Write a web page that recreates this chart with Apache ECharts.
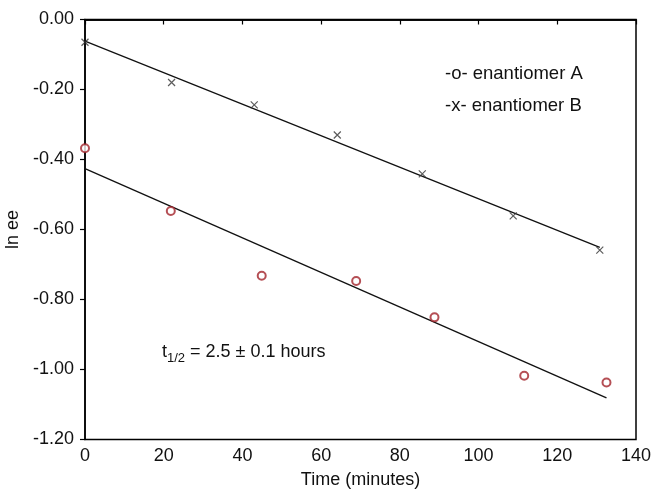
<!DOCTYPE html>
<html>
<head>
<meta charset="utf-8">
<script src="https://cdn.jsdelivr.net/npm/echarts@6/dist/echarts.min.js"></script>
<style>
html,body{margin:0;padding:0;background:#fff;}
#chart{width:653px;height:491px;}
</style>
</head>
<body>
<div id="chart"></div>
<script>
// Enantiomer A (circles)
const timeA = [0, 21.8, 44.9, 68.9, 88.8, 111.6, 132.5];
const lnEeA = [-0.368, -0.547, -0.732, -0.747, -0.851, -1.018, -1.037];
// Enantiomer B (crosses)
const timeB = [0, 22.0, 43.0, 64.1, 85.7, 108.8, 130.8];
const lnEeB = [-0.065, -0.180, -0.244, -0.330, -0.441, -0.561, -0.659];
// Axes
const xTicks = [0, 20, 40, 60, 80, 100, 120, 140];
const yTicks = [-1.2, -1.0, -0.8, -0.6, -0.4, -0.2, 0.0];
const legendLabels = ['-o- enantiomer A', '-x- enantiomer B'];

function fit(xs, ys) {
  const n = xs.length;
  const mx = xs.reduce((a, b) => a + b, 0) / n;
  const my = ys.reduce((a, b) => a + b, 0) / n;
  let sxy = 0, sxx = 0;
  for (let i = 0; i < n; i++) { sxy += (xs[i] - mx) * (ys[i] - my); sxx += (xs[i] - mx) ** 2; }
  const k = sxy / sxx, b = my - k * mx;
  const x0 = Math.min(...xs), x1 = Math.max(...xs);
  return [[x0, b + k * x0], [x1, b + k * x1]];
}
const pts = (xs, ys) => xs.map((x, i) => [x, ys[i]]);

const FONT = 'Liberation Sans, Arial, Helvetica, sans-serif';
const chart = echarts.init(document.getElementById('chart'), null, {renderer: 'canvas'});
chart.setOption({
  animation: false,
  backgroundColor: '#fff',
  grid: {left: 85, right: 17, top: 19.5, bottom: 51.5, containLabel: false, outerBoundsMode: 'none',
         show: true, borderColor: '#000', borderWidth: 1.5},
  xAxis: [{
    type: 'value', min: xTicks[0], max: xTicks[xTicks.length - 1], interval: 20, position: 'bottom',
    name: 'Time (minutes)', nameLocation: 'middle', nameGap: 32,
    nameTextStyle: {fontFamily: FONT, fontSize: 18, color: '#111'},
    axisLine: {show: true, lineStyle: {color: '#000', width: 1.5}},
    axisTick: {show: false},
    axisLabel: {fontFamily: FONT, fontSize: 18, color: '#111', margin: 8},
    splitLine: {show: false}
  }, {
    type: 'value', min: xTicks[0], max: xTicks[xTicks.length - 1], interval: 20, position: 'top',
    axisLine: {show: true, lineStyle: {color: '#000', width: 1.5}},
    axisTick: {show: true, inside: true, length: 5, lineStyle: {color: '#000', width: 1.2}},
    axisLabel: {show: false}, splitLine: {show: false}
  }],
  yAxis: {
    type: 'value', min: yTicks[0], max: yTicks[yTicks.length - 1], interval: 0.2,
    name: 'ln ee', nameLocation: 'middle', nameGap: 52, nameRotate: 90,
    nameTextStyle: {fontFamily: FONT, fontSize: 18, color: '#111'},
    axisLine: {show: true, lineStyle: {color: '#000', width: 1.5}},
    axisTick: {show: true, length: 5, lineStyle: {color: '#000', width: 1.2}},
    axisLabel: {fontFamily: FONT, fontSize: 18, color: '#111', margin: 11, formatter: v => v.toFixed(2)},
    splitLine: {show: false}
  },
  series: [
    {type: 'line', data: fit(timeB, lnEeB), showSymbol: false, lineStyle: {color: '#111', width: 1.3}, z: 1},
    {type: 'line', data: fit(timeA, lnEeA), showSymbol: false, lineStyle: {color: '#111', width: 1.3}, z: 1},
    {type: 'scatter', data: pts(timeA, lnEeA), symbol: 'emptyCircle', symbolSize: 8,
     itemStyle: {color: '#a3232b', borderWidth: 1.5}, z: 3},
    {type: 'scatter', data: pts(timeB, lnEeB), symbol: 'path://M0,0L10,10M10,0L0,10', symbolSize: 7,
     itemStyle: {color: 'rgba(0,0,0,0)', borderColor: '#333', borderWidth: 1.2}, z: 3}
  ],
  graphic: [
    {type: 'text', left: 445, top: 64, style: {text: legendLabels[0], font: '18.5px ' + FONT, fill: '#111'}},
    {type: 'text', left: 445, top: 96, style: {text: legendLabels[1], font: '18.5px ' + FONT, fill: '#111'}},
    {type: 'text', left: 162, top: 341, style: {
      text: '{t|t}{s|1/2}{t| = 2.5 ± 0.1 hours}',
      rich: {
        t: {fontFamily: FONT, fontSize: 18, fill: '#111', lineHeight: 26, verticalAlign: 'middle'},
        s: {fontFamily: FONT, fontSize: 13, fill: '#111', lineHeight: 26, verticalAlign: 'bottom', padding: [11, 0, 0, 0]}
      }
    }}
  ]
});
</script>
</body>
</html>
